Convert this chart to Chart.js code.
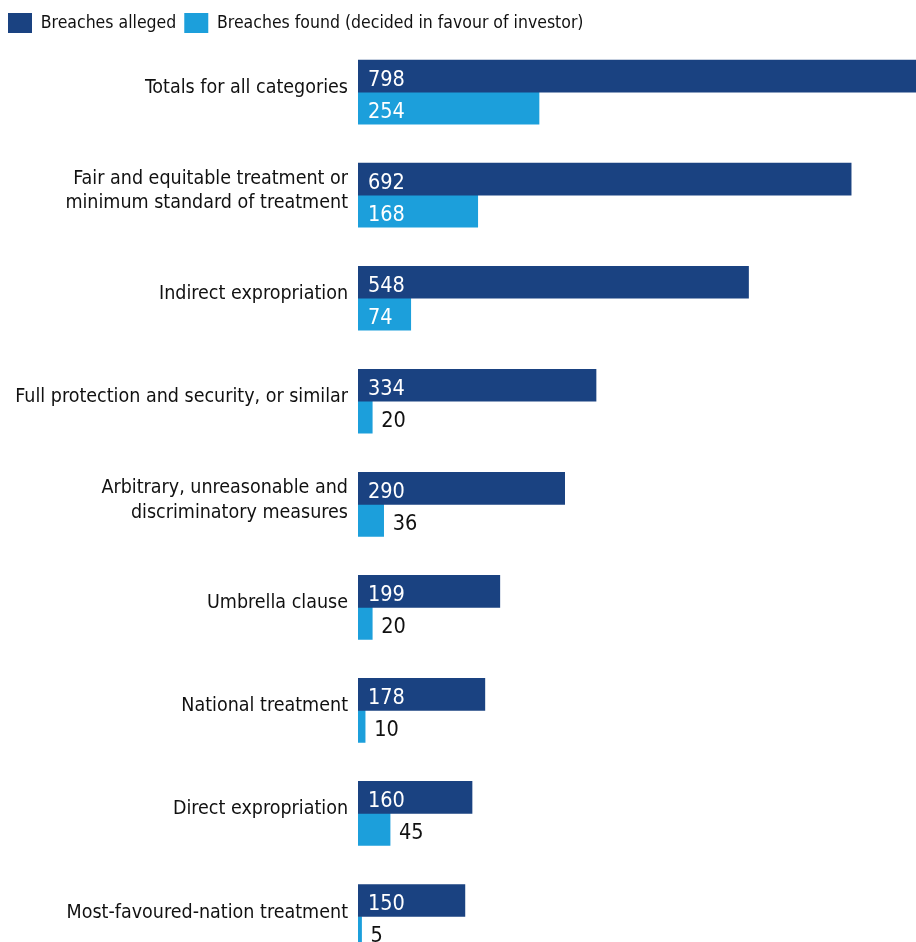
<!DOCTYPE html>
<html>
<head>
<meta charset="utf-8">
<script src="https://cdn.jsdelivr.net/npm/chart.js@4"></script>
<style>
  html, body { margin: 0; padding: 0; background: #fff; width: 916px; height: 942px; overflow: hidden; }
  #wrap { position: relative; width: 916px; height: 942px; overflow: hidden; }
  canvas { display: block; }
</style>
</head>
<body>
<div id="wrap"><canvas id="chartBreaches" width="916" height="968"></canvas></div>
<script>
// Catégories (les libellés longs sont coupés sur deux lignes)
const categories = [
    'Totals for all categories',
    ['Fair and equitable treatment or', 'minimum standard of treatment'],
    'Indirect expropriation',
    'Full protection and security, or similar',
    ['Arbitrary, unreasonable and', 'discriminatory measures'],
    'Umbrella clause',
    'National treatment',
    'Direct expropriation',
    'Most-favoured-nation treatment'
];
const breachesAlleged = [798, 692, 548, 334, 290, 199, 178, 160, 150];
const breachesFound = [254, 168, 74, 20, 36, 20, 10, 45, 5];
const seriesNames = ['Breaches alleged', 'Breaches found (decided in favour of investor)'];

const FONT = "'Liberation Sans Narrow', 'DejaVu Sans Condensed', 'Arial Narrow', sans-serif";

// Hauteur fixe de la légende pour caler le haut de la zone du graphique
const legendHeight = {
    id: 'legendHeight',
    beforeInit(chart) {
        const fitOrig = chart.legend.fit;
        chart.legend.fit = function () {
            fitOrig.bind(chart.legend)();
            this.height = 35.6;
        };
    }
};

// Étiquettes de valeur : en blanc dans la barre si elle est assez large, sinon en noir à droite
const valueLabels = {
    id: 'valueLabels',
    afterDatasetsDraw(chart) {
        const ctx = chart.ctx;
        ctx.save();
        ctx.font = '21.5px ' + FONT;
        ctx.textAlign = 'left';
        ctx.textBaseline = 'alphabetic';
        chart.data.datasets.forEach((ds, di) => {
            const meta = chart.getDatasetMeta(di);
            meta.data.forEach((bar, i) => {
                const txt = String(ds.data[i]);
                const w = ctx.measureText(txt).width;
                const barW = bar.x - bar.base;
                if (barW >= w + 20) {
                    ctx.fillStyle = '#ffffff';
                    ctx.fillText(txt, bar.base + 10, bar.y + 9.5);
                } else {
                    ctx.fillStyle = '#111111';
                    ctx.fillText(txt, bar.x + 9, bar.y + 9.5);
                }
            });
        });
        ctx.restore();
    }
};

const canvas = document.getElementById('chartBreaches');

new Chart(canvas, {
    type: 'bar',
    data: {
        labels: categories,
        datasets: [{
            label: seriesNames[0],
            data: breachesAlleged,
            backgroundColor: '#1a4281',
            borderWidth: 0,
            barThickness: 32
        }, {
            label: seriesNames[1],
            data: breachesFound,
            backgroundColor: '#1c9fdb',
            borderWidth: 0,
            barThickness: 32
        }]
    },
    options: {
        indexAxis: 'y',
        responsive: false,
        animation: false,
        events: [],
        layout: { padding: { top: 5, left: 0, right: 0, bottom: 0 } },
        plugins: {
            legend: {
                display: true,
                position: 'top',
                align: 'start',
                labels: {
                    boxWidth: 24,
                    boxHeight: 20,
                    padding: 8,
                    color: '#111',
                    font: { family: FONT, size: 17.5 }
                }
            },
            tooltip: { enabled: false }
        },
        scales: {
            x: {
                display: false,
                min: 0,
                max: 783
            },
            y: {
                afterFit: scale => {
                    scale.width = 358;
                    scale.paddingTop = 0;
                    scale.paddingBottom = 0;
                },
                grid: { display: false, drawTicks: false },
                border: { display: false },
                ticks: {
                    padding: 10,
                    labelOffset: -4,
                    color: '#111',
                    font: { family: FONT, size: 19.5, lineHeight: 1.25 }
                }
            }
        }
    },
    plugins: [legendHeight, valueLabels]
});
</script>
</body>
</html>
